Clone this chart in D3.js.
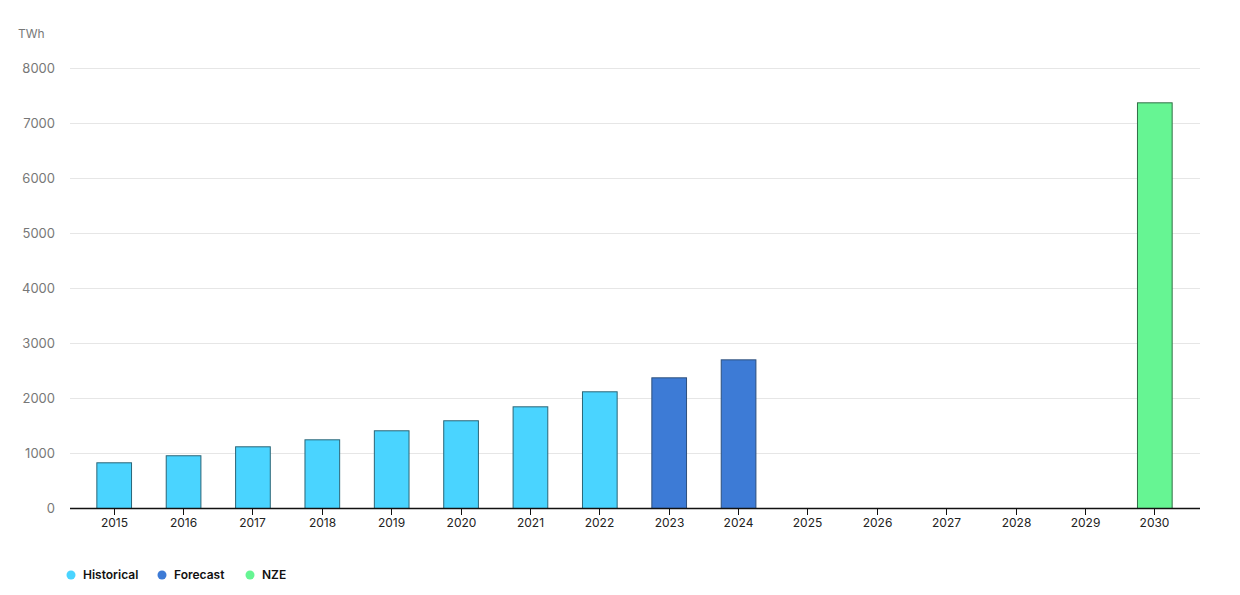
<!DOCTYPE html>
<html>
<head>
<meta charset="utf-8">
<script src="https://cdn.jsdelivr.net/npm/d3@7"></script>
<style>
  body { margin: 0; background: #fff; font-family: Inter, "Noto Sans", sans-serif; }
</style>
</head>
<body>
<svg id="chart" width="1240" height="595"></svg>
<script>
// values (TWh)
var years = ["2015", "2016", "2017", "2018", "2019", "2020", "2021", "2022",
             "2023", "2024", "2025", "2026", "2027", "2028", "2029", "2030"];
var historical = [831, 959, 1122, 1249, 1413, 1595, 1849, 2122, null, null, null, null, null, null, null, null];
var forecast = [null, null, null, null, null, null, null, null, 2376, 2703, null, null, null, null, null, null];
var nze = [null, null, null, null, null, null, null, null, null, null, null, null, null, null, null, 7376];
var yTicks = [0, 1000, 2000, 3000, 4000, 5000, 6000, 7000, 8000];

var series = [
    {name: "Historical", values: historical, color: "#4ad4ff", stroke: "#2b6577"},
    {name: "Forecast", values: forecast, color: "#3d7bd6", stroke: "#2d4f7c"},
    {name: "NZE", values: nze, color: "#66f593", stroke: "#2f6f45"}
];

var svg = d3.select("#chart");
var plotLeft = 70, plotRight = 1200, plotTop = 68, plotBottom = 508;

var x = d3.scaleBand().domain(years).range([79, 1189]).paddingInner(0.5).paddingOuter(0.25);
var y = d3.scaleLinear().domain([0, 8000]).range([plotBottom, plotTop]);

// grid lines
svg.append("g").selectAll("line").data(yTicks.slice(1)).join("line")
    .attr("x1", plotLeft).attr("x2", plotRight)
    .attr("y1", function (d) { return y(d) + 0.5; })
    .attr("y2", function (d) { return y(d) + 0.5; })
    .attr("stroke", "#e6e6e6").attr("stroke-width", 1);

// y labels
svg.append("g").selectAll("text").data(yTicks).join("text")
    .attr("x", 55).attr("y", function (d) { return y(d); })
    .attr("dy", "0.35em").attr("text-anchor", "end")
    .attr("font-size", 13).attr("fill", "#777")
    .text(function (d) { return d; });

svg.append("text").attr("x", 18).attr("y", 38)
    .attr("font-size", 12).attr("fill", "#777").text("TWh");

// bars
series.forEach(function (s) {
    var pts = years.map(function (yr, i) { return {year: yr, v: s.values[i]}; })
        .filter(function (d) { return d.v != null; });
    svg.append("g").selectAll("rect").data(pts).join("rect")
        .attr("x", function (d) { return x(d.year) + 0.5; })
        .attr("y", function (d) { return y(d.v) + 0.5; })
        .attr("width", x.bandwidth())
        .attr("height", function (d) { return y(0) - y(d.v); })
        .attr("fill", s.color)
        .attr("stroke", s.stroke).attr("stroke-width", 1);
});

// x axis
var xAxis = svg.append("g");
xAxis.append("line").attr("x1", plotLeft).attr("x2", plotRight)
    .attr("y1", plotBottom + 0.5).attr("y2", plotBottom + 0.5)
    .attr("stroke", "#111").attr("stroke-width", 1.3);
var ticks = xAxis.selectAll("g").data(years).join("g")
    .attr("transform", function (d) { return "translate(" + (Math.round(x(d) + x.bandwidth() / 2) + 0.5) + ",0)"; });
ticks.append("line").attr("y1", plotBottom).attr("y2", plotBottom + 7).attr("stroke", "#111");
ticks.append("text").attr("y", plotBottom + 19).attr("text-anchor", "middle")
    .attr("font-size", 12).attr("fill", "#222").text(function (d) { return d; });

// legend
var legendX = [71, 162, 250];
var lg = svg.append("g").selectAll("g").data(series).join("g")
    .attr("transform", function (d, i) { return "translate(" + legendX[i] + ",575)"; });
lg.append("circle").attr("r", 4.5).attr("fill", function (d) { return d.color; });
lg.append("text").attr("x", 12).attr("dy", "0.35em")
    .attr("font-size", 12).attr("font-weight", 600).attr("fill", "#111")
    .text(function (d) { return d.name; });
</script>
</body>
</html>
